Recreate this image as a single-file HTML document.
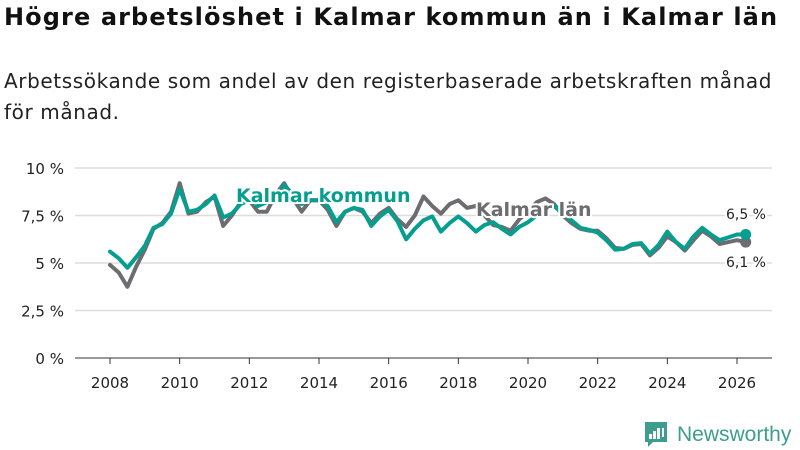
<!DOCTYPE html>
<html><head><meta charset="utf-8">
<style>
body{margin:0;width:800px;height:450px;background:#fff;font-family:"DejaVu Sans","Liberation Sans",sans-serif;overflow:hidden;position:relative;color:#111}
#title{position:absolute;left:4px;top:3px;font-size:24px;font-weight:bold;margin:0;letter-spacing:1.1px;white-space:nowrap}
#sub{position:absolute;left:4px;top:66px;font-size:20px;line-height:31px;width:800px;color:#222;letter-spacing:0.6px;white-space:nowrap}
svg{position:absolute;left:0;top:0}
</style></head><body>
<h1 id="title">Högre arbetslöshet i Kalmar kommun än i Kalmar län</h1>
<div id="sub">Arbetssökande som andel av den registerbaserade arbetskraften månad<br>för månad.</div>
<svg id="chart" width="800" height="450"></svg>
<script>
const yTicks=[0,2.5,5,7.5,10];
const yTickLabels=["0 %","2,5 %","5 %","7,5 %","10 %"];
const xTicks=[2008,2010,2012,2014,2016,2018,2020,2022,2024,2026];
const startYear=2008;
const kommun=[5.6,5.25,4.75,5.3,5.9,6.85,7.05,7.6,8.9,7.7,7.8,8.1,8.55,7.4,7.6,8.1,8.3,8.0,8.2,8.3,9.1,8.6,8.1,8.3,8.3,8.0,7.15,7.7,7.9,7.8,6.95,7.45,7.8,7.2,6.25,6.8,7.25,7.45,6.65,7.1,7.45,7.1,6.65,7.0,7.15,6.8,6.5,6.9,7.15,7.5,7.8,8.0,7.6,7.25,6.85,6.75,6.6,6.2,5.7,5.75,6.0,6.05,5.5,5.95,6.65,6.1,5.75,6.4,6.85,6.5,6.2,6.35,6.5,6.5];
const lan=[4.9,4.5,3.75,4.8,5.7,6.8,7.1,7.7,9.2,7.6,7.7,8.2,8.5,6.95,7.5,8.2,8.3,7.7,7.7,8.6,9.2,8.4,7.7,8.3,8.3,7.8,6.95,7.7,7.9,7.7,7.1,7.6,7.9,7.3,6.9,7.5,8.5,8.0,7.6,8.1,8.3,7.9,8.0,7.5,7.0,6.9,6.7,7.3,7.7,8.2,8.4,8.1,7.5,7.1,6.8,6.7,6.7,6.3,5.8,5.75,5.95,6.0,5.4,5.8,6.4,6.1,5.65,6.2,6.7,6.4,6.0,6.1,6.2,6.1];
const NS="http://www.w3.org/2000/svg";
const svg=document.getElementById('chart');
const X=t=>110+(t-2008)*(627/18);
const Y=v=>358-v*19;
function mk(tag,attrs,parent){const e=document.createElementNS(NS,tag);for(const k in attrs)e.setAttribute(k,attrs[k]);(parent||svg).appendChild(e);return e;}
yTicks.forEach((v,i)=>{
  const l=mk('line',{x1:75,x2:772,y1:Y(v),y2:Y(v),stroke:v===0?'#333':'#ddd','stroke-width':v===0?1:1.5});
  
  
  const t=mk('text',{x:64,y:Y(v)+6,'text-anchor':'end','font-size':15,fill:'#222'});
  t.textContent=yTickLabels[i];
  
  
});
xTicks.forEach(yr=>{
  const tk=mk('line',{x1:X(yr),x2:X(yr),y1:358,y2:364,stroke:'#333'});
  
  
  const t=mk('text',{x:X(yr),y:388,'text-anchor':'middle','font-size':15,fill:'#222'});
  t.textContent=yr;
  
  
});
function series(arr,color,name){
  const d=arr.map((v,i)=>(i?'L':'M')+X(startYear+i/4).toFixed(1)+' '+Y(v).toFixed(1)).join(' ');
  const p=mk('path',{d:d,fill:'none',stroke:color,'stroke-width':4,'stroke-linejoin':'round','stroke-linecap':'round'});
  
  
  const n=arr.length-1;
  const c=mk('circle',{cx:X(startYear+n/4),cy:Y(arr[n]),r:5.5,fill:color});
  
  
  return n;
}
series(lan,'#6d6c70','lan-line');
const n=series(kommun,'#069e8f','kommun-line');
function label(x,y,txt,color,size,weight,anchor,name){
  const t=mk('text',{x:x,y:y,'font-size':size,'font-weight':weight,fill:color,stroke:'#fff','stroke-width':4,'paint-order':'stroke','text-anchor':anchor||'start'});
  t.textContent=txt;
  
  
}
label(236,202,'Kalmar kommun','#069e8f',19,'bold','start','kommun-label');
label(476,216,'Kalmar län','#6d6c70',19,'bold','start','lan-label');
label(766,219,(kommun[n]).toFixed(1).replace('.',',')+' %','#222',14,'normal','end','kommun-end-value');
label(766,267,(lan[n]).toFixed(1).replace('.',',')+' %','#222',14,'normal','end','lan-end-value');
const g=mk('g',{});


mk('path',{d:'M645 422 h22 v20 h-14 l-5 5 v-5 h-3 z',fill:'#3d9e8f'},g);
[[649,434,3,5],[653,431,3,8],[657,428,3,11],[662,428,2,9]].forEach(r=>mk('rect',{x:r[0],y:r[1],width:r[2],height:r[3],fill:'#fff'},g));
const lt=mk('text',{x:677,y:441,'font-size':21,fill:'#3d9e8f','font-family':'Liberation Sans, sans-serif'},g);
lt.textContent='Newsworthy';
</script>
</body></html>
